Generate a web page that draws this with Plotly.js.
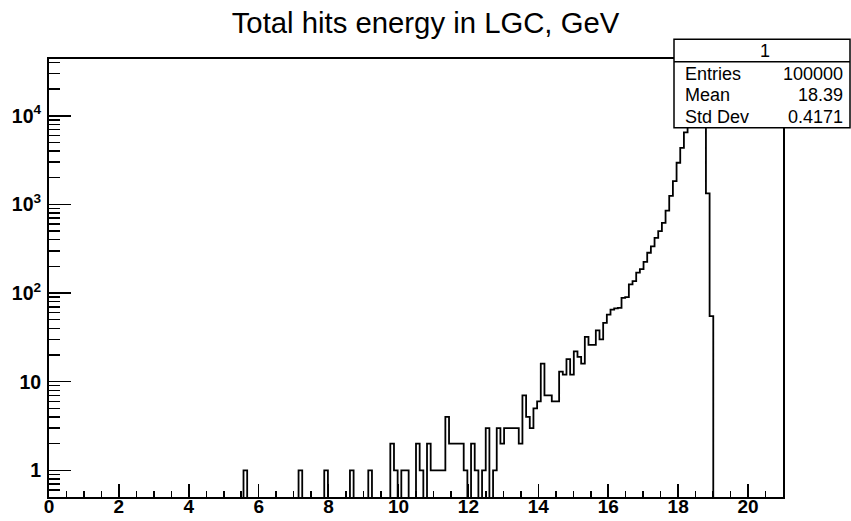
<!DOCTYPE html>
<html>
<head>
<meta charset="utf-8">
<script src="https://cdn.plot.ly/plotly-3.0.1.min.js"></script>
<style>html,body{margin:0;padding:0;background:#fff;}#chart{width:851px;height:521px;}</style>
</head>
<body>
<div id="chart"></div>
<script>
// Histogram definition (ROOT TH1: 200 bins from 0 to 21)
const histTitle = "Total hits energy in LGC, GeV";
const xMin = 0;
const xMax = 21;
const nBins = 200;
// bin contents (index = bin number, 0-based)
const binContents = [
  0,0,0,0,0,0,0,0,0,0,            // 0-9
  0,0,0,0,0,0,0,0,0,0,            // 10-19
  0,0,0,0,0,0,0,0,0,0,            // 20-29
  0,0,0,0,0,0,0,0,0,0,            // 30-39
  0,0,0,0,0,0,0,0,0,0,            // 40-49
  0,0,0,1,0,0,0,0,0,0,            // 50-59
  0,0,0,0,0,0,0,0,1,0,            // 60-69
  0,0,0,0,0,1,0,0,0,0,            // 70-79
  0,0,1,0,0,0,0,1,0,0,            // 80-89
  0,0,0,2,1,0,1,1,0,0,            // 90-99
  2,1,0,2,1,1,1,1,4,2,            // 100-109
  2,2,2,1,0,2,1,0,1,3,            // 110-119
  0,1,3,2,3,3,3,3,2,7,            // 120-129
  4,3,5,6,16,7,7,6,6,13,          // 130-139
  12,18,12,22,19,16,32,26,26,38,  // 140-149
  30,46,57,65,67,68,88,90,125,136,// 150-159
  170,186,225,285,337,420,500,620,850,1250,        // 160-169
  1830,2950,4350,6500,9500,13500,18000,21500,15000,1330, // 170-179
  55,0,0,0,0,0,0,0,0,0,           // 180-189
  0,0,0,0,0,0,0,0,0,0             // 190-199
];
// Stats box
const statsName = "1";
const statsLabels = ["Entries", "Mean", "Std Dev"];
const statsValues = ["100000", "18.39", "0.4171"];

// Build step outline from bin edges
const binWidth = (xMax - xMin) / nBins;
const floorVal = 1e-3; // empty bins drawn below the frame (log axis)
const xs = [], ys = [];
for (let k = 0; k < nBins; k++) {
  xs.push(xMin + k * binWidth);
  ys.push(binContents[k] > 0 ? binContents[k] : floorVal);
}
xs.push(xMax);
ys.push(binContents[nBins - 1] > 0 ? binContents[nBins - 1] : floorVal);

const FONT = "Liberation Sans, Arial, Helvetica, sans-serif";

// pixel helpers for the stats box (paper coordinates)
const L = 49, R = 68, T = 59, B = 24, W = 851, H = 521;
const pw = W - L - R, ph = H - T - B;
const px = v => (v - L) / pw;
const py = v => (H - B - v) / ph;

const boxL = 674, boxR = 850, boxT = 39.3, boxB = 127.7, boxSep = 61.7;
const rowY = [74, 95, 116.5];

const annotations = [{
  text: statsName, xref: "paper", yref: "paper", x: px(765), y: py(51),
  xanchor: "center", yanchor: "middle", showarrow: false,
  font: {family: FONT, size: 18, color: "#000"}
}];
statsLabels.forEach((lab, i) => {
  annotations.push({text: lab, xref: "paper", yref: "paper", x: px(683), y: py(rowY[i]),
    xanchor: "left", yanchor: "middle", showarrow: false,
    font: {family: FONT, size: 18, color: "#000"}});
  annotations.push({text: statsValues[i], xref: "paper", yref: "paper", x: px(845), y: py(rowY[i]),
    xanchor: "right", yanchor: "middle", showarrow: false,
    font: {family: FONT, size: 18, color: "#000"}});
});

const shapes = [
  {type: "rect", xref: "paper", yref: "paper", x0: px(boxL), x1: px(boxR), y0: py(boxB), y1: py(boxT),
   line: {color: "#000", width: 1.5}, fillcolor: "#fff", layer: "above"},
  {type: "line", xref: "paper", yref: "paper", x0: px(boxL), x1: px(boxR), y0: py(boxSep), y1: py(boxSep),
   line: {color: "#000", width: 1.5}, layer: "above"}
];

const trace = {
  x: xs, y: ys, type: "scatter", mode: "lines",
  line: {shape: "hv", color: "#000", width: 1.8},
  hoverinfo: "skip", showlegend: false
};

const tickFont = {family: FONT, size: 19, color: "#000", weight: "bold"};

const layout = {
  width: W, height: H,
  margin: {l: L, r: R, t: T, b: B, pad: 0},
  paper_bgcolor: "#fff", plot_bgcolor: "#fff",
  showlegend: false,
  title: {text: histTitle, x: 0.5, xref: "container", xanchor: "center",
          y: 1 - 23 / H, yref: "container", yanchor: "middle",
          font: {family: FONT, size: 29.3, color: "#000"}},
  xaxis: {
    range: [xMin, xMax], tick0: 0, dtick: 2, ticks: "inside", ticklen: 13, tickwidth: 1.5, tickcolor: "#000",
    showline: true, linecolor: "#000", linewidth: 1.8, mirror: true, showgrid: false, zeroline: false,
    tickfont: tickFont, ticklabelstandoff: -9,
    minor: {dtick: 0.5, ticks: "inside", ticklen: 6, tickwidth: 1.5, tickcolor: "#000", showgrid: false}
  },
  yaxis: {
    type: "log", range: [Math.log10(0.5), Math.log10(43700)], dtick: 1, exponentformat: "power",
    ticks: "inside", ticklen: 22, tickwidth: 1.5, tickcolor: "#000",
    showline: true, linecolor: "#000", linewidth: 1.8, mirror: true, showgrid: false, zeroline: false,
    tickfont: {family: FONT, size: 15.6, color: "#000", weight: "bold"}, ticklabelstandoff: 3,
    minor: {dtick: "D1", ticks: "inside", ticklen: 11, tickwidth: 1.5, tickcolor: "#000", showgrid: false}
  },
  shapes: shapes,
  annotations: annotations
};

Plotly.newPlot("chart", [trace], layout, {staticPlot: true, displayModeBar: false});
</script>
</body>
</html>
